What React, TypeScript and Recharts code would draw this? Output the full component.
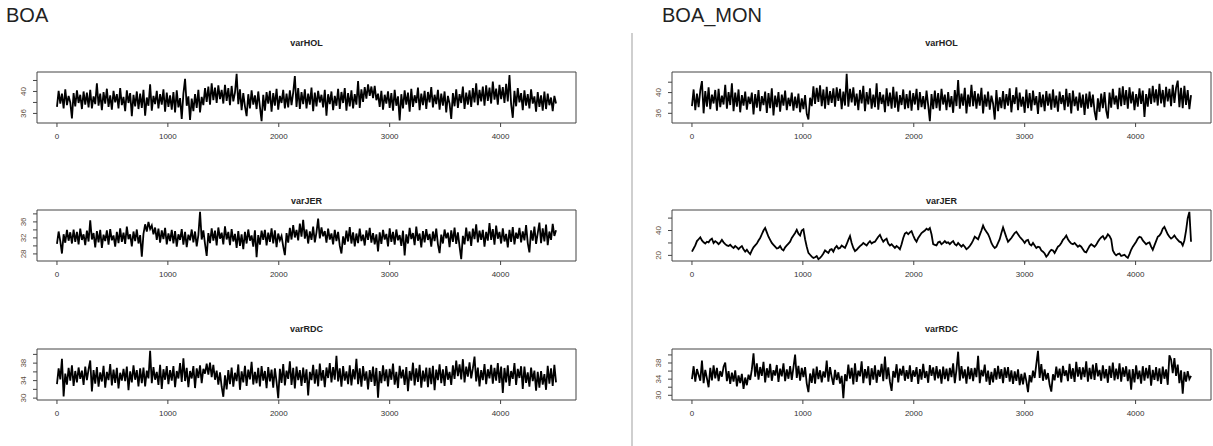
import { LineChart, Line, XAxis, YAxis, ReferenceArea } from 'recharts'

// MCMC traces, one value every 15 iterations (0 .. 4500)
const ITER_STEP = 15
const X_TICKS = [0, 1000, 2000, 3000, 4000]
const X_DOMAIN: [number, number] = [-180, 4680]

const BOA_HOL = [
  37.2, 40.1, 37.8, 39.6, 36.9, 40.4, 37.5, 39.2, 38.0, 35.1,
  39.7, 37.3, 40.2, 37.9, 39.4, 36.8, 40.0, 37.6, 39.8, 37.1,
  40.3, 36.9, 39.1, 37.7, 41.5, 37.4, 39.6, 36.6, 39.9, 37.8,
  40.5, 37.2, 39.3, 36.7, 40.1, 38.0, 39.5, 36.9, 40.6, 37.5,
  39.0, 36.4, 40.2, 37.9, 39.7, 35.5, 39.4, 37.3, 40.0, 36.8,
  39.6, 37.0, 40.3, 35.6, 38.9, 37.4, 41.3, 36.5, 39.2, 37.7,
  40.1, 36.9, 39.5, 37.6, 40.4, 36.3, 39.8, 37.2, 39.3, 36.7,
  39.9, 36.2, 40.2, 37.1, 38.8, 35.0, 39.6, 42.3, 37.4, 39.1,
  34.8, 38.7, 36.4, 39.5, 37.0, 40.3, 36.2, 39.0, 37.5, 40.6,
  38.1, 40.9, 37.6, 41.5, 38.4, 40.7, 37.9, 41.1, 38.6, 40.3,
  37.8, 41.2, 38.3, 40.6, 37.5, 41.0, 38.2, 39.8, 43.2, 37.7,
  40.4, 36.6, 39.7, 37.3, 35.5, 39.5, 36.9, 40.2, 37.6, 39.3,
  36.8, 40.0, 37.2, 34.6, 39.4, 36.5, 39.9, 37.8, 40.1, 36.3,
  39.7, 37.4, 40.5, 36.7, 39.2, 37.9, 40.3, 36.9, 39.6, 37.1,
  40.2, 37.5, 39.8, 42.8, 37.2, 40.6, 36.8, 39.9, 37.7, 40.4,
  36.9, 39.6, 37.6, 40.7, 36.4, 39.8, 37.3, 40.1, 38.0, 39.4,
  37.1, 40.3, 35.6, 39.5, 37.7, 40.0, 36.6, 39.2, 37.4, 40.5,
  36.8, 39.9, 37.9, 40.6, 36.5, 39.7, 37.3, 40.2, 36.9, 39.5,
  37.6, 41.9, 37.0, 40.4, 38.1, 40.8, 38.7, 41.3, 39.2, 40.9,
  38.8, 41.0, 38.4, 39.6, 37.2, 40.1, 36.7, 39.4, 37.8, 40.0,
  37.0, 39.7, 36.5, 40.3, 37.4, 39.1, 34.7, 39.5, 36.9, 40.2,
  37.6, 39.8, 36.3, 40.5, 37.2, 39.3, 37.9, 40.7, 36.6, 39.6,
  37.5, 40.1, 36.8, 39.9, 38.0, 40.8, 37.1, 39.4, 37.7, 40.3,
  36.7, 39.6, 37.4, 40.0, 36.2, 39.2, 37.8, 35.0, 39.7, 37.3,
  40.4, 37.0, 39.5, 37.9, 40.9, 36.8, 39.8, 37.6, 40.2, 37.2,
  40.6, 38.0, 41.5, 37.5, 40.3, 38.2, 40.9, 37.4, 41.1, 38.3,
  40.7, 37.8, 41.8, 38.5, 40.5, 37.6, 41.2, 38.6, 40.8, 37.9,
  41.4, 38.2, 43.0, 37.7, 35.2, 40.1, 37.3, 40.6, 38.0, 39.7,
  36.6, 40.2, 37.4, 39.5, 36.9, 40.4, 37.8, 39.1, 36.3, 39.9,
  37.2, 39.3, 36.5, 40.0, 36.8, 39.6, 37.5, 38.9, 36.4, 39.2,
  37.8,
]

const BOA_JER = [
  30.5, 33.6, 31.2, 28.1, 32.9, 30.8, 34.0, 31.3, 33.4, 30.6,
  34.1, 31.0, 33.5, 30.4, 34.3, 31.5, 32.9, 30.2, 33.8, 31.1,
  36.4, 31.6, 33.2, 29.6, 33.7, 30.9, 34.0, 29.5, 32.8, 31.2,
  33.9, 30.3, 34.2, 31.4, 32.6, 29.8, 33.5, 30.7, 34.4, 31.0,
  33.3, 30.5, 34.8, 31.7, 32.9, 29.9, 33.6, 31.2, 34.1, 30.6,
  32.7, 27.3, 33.0, 35.4, 33.6, 36.0, 34.2, 35.1, 32.9, 34.6,
  31.5, 34.3, 30.8, 33.9, 31.7, 34.5, 30.4, 33.1, 31.2, 34.0,
  30.6, 33.7, 29.8, 32.9, 31.5, 34.2, 30.3, 33.5, 29.7, 32.8,
  31.4, 34.1, 30.9, 33.6, 29.9, 32.7, 38.5, 31.6, 33.9, 30.5,
  27.5, 33.2, 30.7, 34.4, 31.3, 33.8, 30.1, 34.6, 31.8, 33.3,
  30.4, 34.9, 31.6, 33.5, 30.2, 34.2, 31.1, 33.0, 29.5, 33.7,
  30.0, 32.9, 29.2, 33.5, 30.6, 34.1, 31.3, 32.6, 29.8, 33.9,
  27.2, 32.7, 30.3, 33.8, 31.5, 34.0, 30.1, 33.3, 31.0, 34.4,
  30.6, 33.9, 29.7, 33.1, 31.4, 32.5, 29.9, 27.7, 33.2, 30.8,
  34.5, 31.6, 35.2, 32.1, 34.0, 31.4, 35.6, 32.3, 36.5, 31.8,
  34.1, 30.6, 33.6, 31.5, 34.8, 30.9, 33.4, 36.8, 31.9, 34.6,
  32.4, 33.7, 30.8, 34.3, 31.6, 33.1, 30.4, 34.0, 31.2, 33.5,
  30.0, 28.1, 32.4, 30.3, 33.8, 31.1, 34.7, 30.6, 33.4, 29.9,
  33.1, 30.7, 34.3, 31.2, 32.8, 30.1, 33.9, 31.5, 34.5, 30.8,
  33.2, 30.4, 32.9, 28.6, 33.4, 30.5, 34.0, 31.6, 33.0, 29.9,
  34.4, 31.0, 33.5, 30.3, 34.1, 31.4, 32.7, 30.0, 33.8, 27.6,
  32.9, 30.6, 34.5, 31.7, 33.2, 30.2, 34.8, 31.3, 33.1, 29.6,
  33.7, 30.9, 34.2, 31.5, 33.0, 29.8, 33.6, 31.2, 34.3, 30.4,
  28.2, 32.8, 30.6, 34.1, 31.9, 33.3, 29.7, 33.9, 31.0, 34.6,
  30.5, 33.4, 29.9, 26.7, 32.5, 30.4, 34.6, 31.2, 33.6, 30.0,
  34.3, 31.7, 35.4, 30.9, 33.8, 31.5, 34.0, 29.8, 33.5, 31.3,
  35.7, 31.5, 34.2, 30.3, 35.1, 31.8, 33.5, 30.6, 34.4, 31.1,
  33.0, 29.6, 34.0, 31.0, 34.7, 30.4, 33.3, 31.8, 34.5, 30.9,
  33.6, 31.4, 35.2, 30.7, 28.4, 33.9, 31.3, 34.8, 30.5, 33.2,
  35.8, 30.7, 34.4, 31.1, 35.3, 30.2, 33.6, 31.5, 35.5, 32.5,
  33.9,
]

const BOA_RDC = [
  33.2, 36.8, 34.3, 39.0, 30.4, 35.6, 33.1, 36.9, 34.0, 37.5,
  32.8, 36.2, 33.6, 37.0, 34.4, 36.3, 33.0, 37.2, 34.1, 36.6,
  38.6, 31.5, 36.4, 33.3, 37.1, 32.6, 35.9, 33.8, 37.4, 32.4,
  36.0, 34.1, 37.8, 32.9, 36.5, 33.5, 36.9, 32.2, 35.8, 34.0,
  36.7, 33.9, 37.2, 31.8, 36.1, 33.6, 37.5, 34.2, 36.4, 32.7,
  36.8, 33.4, 37.0, 32.7, 36.3, 34.5, 40.8, 33.4, 37.1, 34.2,
  36.0, 33.0, 37.6, 32.1, 36.6, 34.2, 37.3, 33.2, 36.4, 34.0,
  37.3, 32.5, 36.2, 34.5, 38.0, 33.7, 39.1, 33.9, 36.9, 32.5,
  36.2, 34.5, 37.3, 32.3, 36.8, 34.6, 37.5, 33.4, 36.7, 35.6,
  37.9, 35.4, 38.1, 34.8, 37.6, 34.2, 36.3, 33.1, 35.9, 32.6,
  30.3, 35.2, 32.0, 36.4, 33.2, 37.0, 32.6, 35.8, 33.9, 37.7,
  31.9, 36.1, 33.6, 37.4, 32.8, 36.5, 34.3, 38.3, 33.1, 36.0,
  33.4, 36.9, 32.7, 37.3, 34.0, 36.2, 32.3, 37.1, 33.8, 36.5,
  32.4, 36.8, 33.7, 30.0, 36.7, 33.5, 37.8, 32.9, 36.3, 34.4,
  38.4, 33.0, 36.9, 32.2, 37.2, 34.1, 36.4, 32.8, 37.0, 33.5,
  36.6, 30.6, 36.0, 34.1, 37.6, 33.3, 36.6, 32.7, 37.9, 34.0,
  36.4, 32.5, 37.0, 34.6, 38.0, 33.6, 37.1, 34.2, 39.7, 33.8,
  36.8, 32.6, 37.3, 34.0, 36.1, 33.2, 37.5, 32.9, 36.6, 34.3,
  39.0, 33.2, 36.8, 32.6, 37.3, 34.0, 36.1, 32.0, 36.4, 33.7,
  37.2, 32.8, 36.9, 30.1, 36.2, 33.4, 37.5, 33.9, 36.6, 32.7,
  36.7, 34.2, 37.9, 33.1, 36.0, 32.3, 37.4, 34.5, 36.5, 33.0,
  37.1, 31.6, 36.2, 34.0, 38.1, 32.9, 36.8, 33.7, 37.6, 32.4,
  36.3, 33.8, 37.0, 32.5, 36.9, 33.2, 37.4, 31.8, 36.5, 34.1,
  37.7, 33.4, 36.6, 32.8, 37.3, 34.2, 36.0, 33.0, 37.5, 34.4,
  38.6, 35.0, 37.7, 34.3, 38.9, 33.6, 37.2, 34.9, 38.2, 34.5,
  36.8, 39.5, 33.8, 37.0, 32.7, 36.4, 34.1, 37.8, 33.2, 36.6,
  34.5, 37.6, 33.3, 36.9, 34.0, 38.0, 33.5, 37.2, 31.2, 36.9,
  33.6, 37.5, 32.8, 36.2, 34.4, 38.0, 33.0, 36.7, 34.6, 37.3,
  32.1, 37.2, 33.5, 35.9, 32.6, 37.0, 33.9, 36.3, 31.7, 36.0,
  32.4, 36.2, 33.1, 35.5, 31.9, 37.4, 33.3, 36.8, 32.8, 37.6,
  33.6,
]

const MON_HOL = [
  37.4, 40.6, 36.6, 39.8, 37.2, 40.4, 42.2, 36.0, 40.3, 37.3,
  41.0, 36.8, 39.6, 37.9, 40.5, 36.5, 40.7, 37.2, 39.4, 37.7,
  41.5, 36.9, 40.1, 37.6, 41.8, 36.4, 40.0, 37.3, 40.6, 36.2,
  39.5, 37.5, 40.2, 36.7, 39.2, 37.8, 40.0, 35.8, 39.7, 37.1,
  40.5, 36.4, 39.3, 37.6, 40.2, 36.1, 39.9, 37.0, 40.8, 35.6,
  39.4, 37.2, 40.1, 36.3, 39.6, 37.5, 40.4, 36.6, 39.0, 37.4,
  40.0, 36.5, 39.2, 37.0, 39.8, 36.2, 38.9, 36.8, 39.5, 35.9,
  34.8, 39.0, 37.4, 41.2, 37.8, 40.9, 38.2, 41.4, 37.4, 40.6,
  36.9, 41.1, 37.6, 40.3, 38.0, 40.8, 37.3, 41.0, 38.4, 40.7,
  36.8, 40.2, 37.5, 43.6, 37.3, 40.7, 38.1, 41.0, 37.5, 39.8,
  36.6, 40.5, 37.9, 41.3, 36.4, 40.1, 37.7, 40.8, 36.9, 39.6,
  37.2, 41.8, 36.7, 40.1, 37.8, 39.6, 36.2, 40.8, 37.4, 40.0,
  36.9, 41.1, 37.1, 40.2, 36.3, 39.5, 37.6, 40.6, 36.8, 39.7,
  37.0, 40.4, 36.5, 39.9, 37.7, 40.7, 36.6, 40.1, 37.2, 39.3,
  36.8, 40.4, 37.6, 34.5, 39.7, 36.8, 40.4, 37.0, 39.9, 36.5,
  40.7, 37.7, 39.6, 36.6, 40.1, 37.2, 39.3, 36.1, 40.5, 37.4,
  42.4, 36.9, 39.8, 37.5, 40.9, 36.0, 39.6, 37.3, 41.5, 37.4,
  40.3, 36.9, 39.8, 37.5, 40.9, 36.0, 39.6, 37.3, 40.2, 36.7,
  39.4, 37.9, 34.8, 40.5, 36.4, 39.1, 37.0, 40.3, 36.8, 39.7,
  37.5, 40.8, 36.2, 39.5, 37.8, 41.0, 36.6, 40.0, 37.3, 39.2,
  36.1, 40.6, 37.0, 39.9, 36.5, 40.4, 37.6, 39.3, 35.9, 40.1,
  37.2, 39.6, 36.4, 40.3, 37.5, 39.8, 36.7, 40.6, 37.1, 39.4,
  36.3, 40.2, 37.8, 39.5, 36.6, 40.7, 37.3, 39.9, 36.0, 40.4,
  37.4, 39.2, 36.5, 40.0, 37.1, 39.6, 35.7, 39.8, 36.9, 40.2,
  37.2, 39.6, 36.4, 34.7, 38.9, 36.3, 39.8, 37.0, 40.1, 36.5,
  35.0, 40.0, 37.1, 40.7, 37.7, 39.4, 36.8, 40.9, 37.4, 41.2,
  37.6, 40.5, 36.9, 41.0, 37.9, 40.2, 36.6, 39.7, 37.3, 40.8,
  37.8, 40.4, 35.3, 39.7, 37.3, 40.8, 37.8, 41.3, 38.1, 40.6,
  37.5, 41.7, 37.9, 40.5, 37.2, 41.1, 38.3, 40.7, 37.4, 41.5,
  38.0, 40.9, 42.3, 37.2, 40.9, 37.0, 41.3, 37.6, 40.5, 36.8,
  39.5,
]

const MON_JER = [
  23.0, 25.5, 28.0, 31.5, 33.0, 34.5, 32.0, 30.5, 29.5, 31.0,
  30.5, 32.5, 33.5, 30.0, 31.5, 30.5, 29.0, 30.5, 32.5, 30.5,
  29.0, 28.0, 27.5, 28.5, 27.0, 26.0, 27.5, 26.5, 25.0, 26.5,
  27.5, 25.0, 23.0, 24.5, 22.5, 21.0, 24.0, 26.5, 28.0, 29.5,
  32.0, 34.0, 37.0, 40.0, 42.0, 38.5, 35.0, 32.5, 30.0, 28.5,
  27.0, 25.5, 26.0, 27.5, 25.0, 24.0, 26.5, 28.0, 29.5, 31.0,
  34.0, 36.0, 38.0, 40.5, 37.5, 36.0, 40.0, 41.0, 33.0, 27.0,
  22.0, 20.5, 19.0, 18.0, 18.5, 19.5, 17.0, 18.0, 19.5, 21.5,
  24.0, 23.0, 22.0, 24.5, 25.0, 23.0, 26.0, 27.5, 25.5, 26.0,
  28.0, 27.0, 26.0, 29.0, 32.5, 35.5, 30.0, 26.0, 23.5, 24.5,
  26.0, 27.5, 28.5, 30.0, 29.0, 28.0, 30.0, 31.5, 29.5, 30.5,
  31.0, 33.0, 35.0, 36.5, 33.5, 31.0, 32.5, 33.5, 29.5, 28.0,
  29.0, 27.5, 26.0, 27.5, 26.5, 25.0, 29.0, 34.0, 37.5, 38.5,
  37.0, 38.5, 39.5, 36.0, 33.0, 31.0, 34.0, 36.0, 38.0, 39.0,
  40.0, 41.5, 40.5, 42.0, 37.0, 29.0, 28.5, 28.0, 30.5, 31.0,
  29.0, 30.0, 31.5, 30.0, 30.5, 29.0, 30.5, 31.5, 29.0, 28.0,
  30.0, 28.5, 27.0, 28.5, 27.0, 25.0, 26.0, 27.5, 29.5, 32.0,
  35.0, 34.0, 33.0, 36.5, 40.0, 44.0, 41.0, 39.0, 37.0, 34.0,
  30.0, 27.5, 26.0, 27.0, 30.0, 33.0, 38.0, 42.5, 38.5, 34.5,
  31.0, 32.5, 34.0, 36.0, 38.0, 39.0, 37.0, 35.0, 33.5, 32.0,
  30.0, 32.0, 32.5, 29.0, 28.0, 30.0, 28.0, 26.0, 27.0, 26.5,
  24.0, 23.0, 21.5, 19.0, 20.5, 23.0, 24.5, 24.0, 22.0, 24.5,
  27.0, 28.0, 30.0, 32.5, 34.0, 36.0, 33.0, 31.0, 29.5, 29.0,
  30.0, 28.5, 27.0, 28.0, 27.0, 25.0, 23.0, 22.5, 25.0, 27.5,
  29.0, 28.0, 27.0, 28.5, 31.0, 33.0, 34.5, 35.5, 33.0, 34.5,
  37.0, 35.5, 33.0, 24.0, 21.5, 20.0, 21.0, 21.5, 19.5, 20.0,
  20.5, 19.0, 18.0, 21.0, 24.5, 27.0, 29.0, 31.0, 33.5, 35.0,
  34.5, 32.0, 30.5, 29.0, 30.0, 30.5, 27.0, 24.5, 28.0, 31.5,
  35.0, 36.0, 38.0, 41.5, 43.0, 40.0, 37.0, 35.0, 33.5, 34.5,
  36.0, 34.0, 32.5, 31.0, 30.5, 28.0, 32.0, 40.0, 50.0, 55.0,
  31.0,
]

const MON_RDC = [
  34.0, 37.2, 33.4, 36.5, 35.0, 33.6, 38.6, 33.0, 36.3, 34.2,
  32.0, 36.8, 33.7, 37.4, 34.2, 36.8, 33.5, 36.0, 34.6, 37.1,
  38.1, 33.5, 36.0, 32.8, 35.6, 33.4, 36.2, 32.2, 34.9, 33.0,
  35.3, 31.6, 34.4, 32.5, 35.1, 33.8, 36.4, 40.4, 34.6, 37.9,
  33.9, 37.0, 34.8, 38.3, 33.2, 36.7, 34.4, 37.8, 33.6, 36.2,
  34.9, 37.5, 33.3, 36.6, 34.7, 37.9, 33.5, 36.4, 34.1, 37.2,
  33.8, 36.9, 40.1, 34.3, 37.3, 33.6, 36.8, 34.5, 37.0, 32.9,
  30.8, 35.4, 33.1, 36.6, 32.9, 37.1, 34.0, 36.2, 33.2, 35.9,
  34.4, 38.6, 33.4, 37.0, 34.5, 32.6, 36.3, 33.8, 35.7, 32.9,
  34.8, 29.3, 35.2, 33.5, 37.6, 34.1, 36.8, 32.7, 37.9, 33.3,
  36.1, 34.7, 38.4, 33.0, 36.5, 34.2, 37.2, 32.5, 36.7, 33.9,
  37.4, 33.1, 36.3, 34.6, 37.8, 33.5, 39.6, 34.0, 36.9, 33.3,
  31.1, 36.0, 34.4, 37.7, 33.2, 36.6, 34.9, 37.3, 33.6, 36.2,
  34.1, 37.4, 33.3, 36.2, 34.6, 37.0, 32.8, 36.5, 33.9, 37.8,
  34.3, 36.0, 33.1, 37.5, 34.8, 36.9, 33.7, 37.2, 34.2, 36.4,
  32.9, 37.1, 34.0, 36.6, 33.5, 36.8, 34.5, 37.9, 33.0, 36.3,
  40.8, 33.6, 37.2, 34.2, 36.4, 32.9, 37.1, 34.0, 36.7, 33.5,
  36.8, 34.5, 39.8, 33.0, 36.3, 34.7, 37.6, 33.4, 36.1, 32.6,
  35.8, 33.2, 36.7, 33.9, 37.3, 34.1, 36.5, 33.0, 36.9, 34.3,
  37.0, 33.4, 36.2, 32.8, 35.9, 33.6, 36.4, 32.5, 35.3, 32.7,
  35.6, 33.5, 30.8, 35.0, 33.2, 36.1, 34.3, 37.7, 41.0, 34.3,
  37.7, 33.6, 36.4, 33.9, 35.5, 32.6, 30.9, 35.2, 33.7, 37.1,
  34.4, 36.6, 33.2, 37.3, 34.8, 36.2, 33.5, 37.8, 34.1, 36.7,
  33.3, 38.3, 34.6, 37.0, 33.9, 36.9, 34.5, 38.4, 33.4, 36.8,
  34.0, 37.6, 33.8, 38.0, 34.7, 36.3, 33.6, 37.4, 34.2, 36.5,
  33.1, 37.3, 34.3, 38.1, 33.7, 36.6, 34.0, 37.9, 33.4, 36.9,
  34.6, 37.2, 33.5, 36.4, 31.4, 36.5, 33.2, 37.4, 34.0, 36.1,
  32.9, 37.2, 33.6, 36.8, 34.2, 37.5, 32.4, 36.3, 33.8, 37.0,
  33.5, 36.7, 32.8, 37.1, 34.1, 36.4, 32.6, 39.9, 38.9, 35.5,
  39.2, 34.8, 37.6, 33.0, 36.2, 30.4, 35.8, 33.4, 36.0, 34.0,
  34.8,
]

const ITERS = BOA_HOL.map((_, i) => i * ITER_STEP)

const FONT = '"Liberation Sans", Arial, sans-serif'
const BOX_W = 539
const BOX_H = 51
const AXIS_W = 37
const CHART_TOP = 40
const XAXIS_H = 24

interface PanelProps {
  title: string
  values: number[]
  boxLeft: number
  boxTop: number
  titleGap: number
  yTicks: number[]
  yLabels: number[]
}

function XTick({ x, y, payload }: any) {
  return (
    <text x={x} y={y + 10} textAnchor="middle" fontSize={8} fill="#333" fontFamily={FONT}>
      {payload.value}
    </text>
  )
}

function YTick({ x, y, payload, labels }: any) {
  if (!labels.includes(payload.value)) return <g />
  const bx = x - 5
  return (
    <text
      x={bx}
      y={y}
      transform={`rotate(-90, ${bx}, ${y})`}
      textAnchor="middle"
      fontSize={8}
      fill="#5e4e40"
      fontFamily={FONT}
    >
      {payload.value}
    </text>
  )
}

function Panel({ title, values, boxLeft, boxTop, titleGap, yTicks, yLabels }: PanelProps) {
  const data = values.map((v, i) => ({ iter: ITERS[i], v }))
  // R-style axis range: data range padded by 4% each side
  const lo = Math.min(...values)
  const hi = Math.max(...values)
  const pad = (hi - lo) * 0.04
  const yDomain: [number, number] = [lo - pad, hi + pad]
  const w = AXIS_W + BOX_W + 4

  return (
    <div style={{ position: 'absolute', left: boxLeft - AXIS_W, top: boxTop - CHART_TOP, width: w }}>
      <div
        style={{
          position: 'absolute',
          left: AXIS_W,
          width: BOX_W,
          top: CHART_TOP - titleGap - 6,
          textAlign: 'center',
          fontFamily: FONT,
          fontWeight: 'bold',
          fontSize: 9,
          lineHeight: '12px',
          color: '#222',
        }}
      >
        {title}
      </div>
      <LineChart
        width={w}
        height={CHART_TOP + BOX_H + XAXIS_H}
        data={data}
        margin={{ top: CHART_TOP, right: 4, bottom: 0, left: 0 }}
      >
        <XAxis
          dataKey="iter"
          type="number"
          domain={X_DOMAIN}
          ticks={X_TICKS}
          interval={0}
          allowDataOverflow
          axisLine={false}
          tickSize={4}
          tickLine={{ stroke: '#444' }}
          tick={<XTick />}
          height={XAXIS_H}
        />
        <YAxis
          type="number"
          domain={yDomain}
          ticks={yTicks}
          interval={0}
          allowDataOverflow
          axisLine={false}
          tickSize={4}
          tickLine={{ stroke: '#444' }}
          tick={<YTick labels={yLabels} />}
          width={AXIS_W}
        />
        <Line
          type="linear"
          dataKey="v"
          stroke="#000"
          strokeWidth={1.8}
          strokeLinejoin="miter"
          dot={false}
          activeDot={false}
          isAnimationActive={false}
        />
        <ReferenceArea
          x1={X_DOMAIN[0]}
          x2={X_DOMAIN[1]}
          y1={yDomain[0]}
          y2={yDomain[1]}
          fill="none"
          stroke="#444"
          strokeWidth={1}
          ifOverflow="visible"
        />
      </LineChart>
    </div>
  )
}

const ROW_TOPS = [72, 210, 349]
const ROW_TITLE_GAPS = [29, 9, 20]
const COL_LEFTS = [37, 672]

export default function App() {
  return (
    <div
      style={{
        position: 'absolute',
        left: 0,
        top: 0,
        width: 1213,
        height: 446,
        background: '#fff',
        fontFamily: FONT,
      }}
    >
      <div style={{ position: 'absolute', left: 6, top: 4, fontSize: 20, color: '#222' }}>BOA</div>
      <div style={{ position: 'absolute', left: 662, top: 4, fontSize: 20, color: '#222' }}>BOA_MON</div>
      <div style={{ position: 'absolute', left: 631, top: 33, width: 1.5, height: 413, background: '#cfcfcf' }} />

      <Panel title="varHOL" values={BOA_HOL} boxLeft={COL_LEFTS[0]} boxTop={ROW_TOPS[0]} titleGap={ROW_TITLE_GAPS[0]} yTicks={[36, 38, 40, 42]} yLabels={[36, 40]} />
      <Panel title="varJER" values={BOA_JER} boxLeft={COL_LEFTS[0]} boxTop={ROW_TOPS[1]} titleGap={ROW_TITLE_GAPS[1]} yTicks={[28, 30, 32, 34, 36, 38]} yLabels={[28, 32, 36]} />
      <Panel title="varRDC" values={BOA_RDC} boxLeft={COL_LEFTS[0]} boxTop={ROW_TOPS[2]} titleGap={ROW_TITLE_GAPS[2]} yTicks={[30, 32, 34, 36, 38, 40]} yLabels={[30, 34, 38]} />

      <Panel title="varHOL" values={MON_HOL} boxLeft={COL_LEFTS[1]} boxTop={ROW_TOPS[0]} titleGap={ROW_TITLE_GAPS[0]} yTicks={[36, 38, 40, 42]} yLabels={[36, 40]} />
      <Panel title="varJER" values={MON_JER} boxLeft={COL_LEFTS[1]} boxTop={ROW_TOPS[1]} titleGap={ROW_TITLE_GAPS[1]} yTicks={[20, 30, 40, 50]} yLabels={[20, 40]} />
      <Panel title="varRDC" values={MON_RDC} boxLeft={COL_LEFTS[1]} boxTop={ROW_TOPS[2]} titleGap={ROW_TITLE_GAPS[2]} yTicks={[30, 32, 34, 36, 38, 40]} yLabels={[30, 34, 38]} />
    </div>
  )
}
